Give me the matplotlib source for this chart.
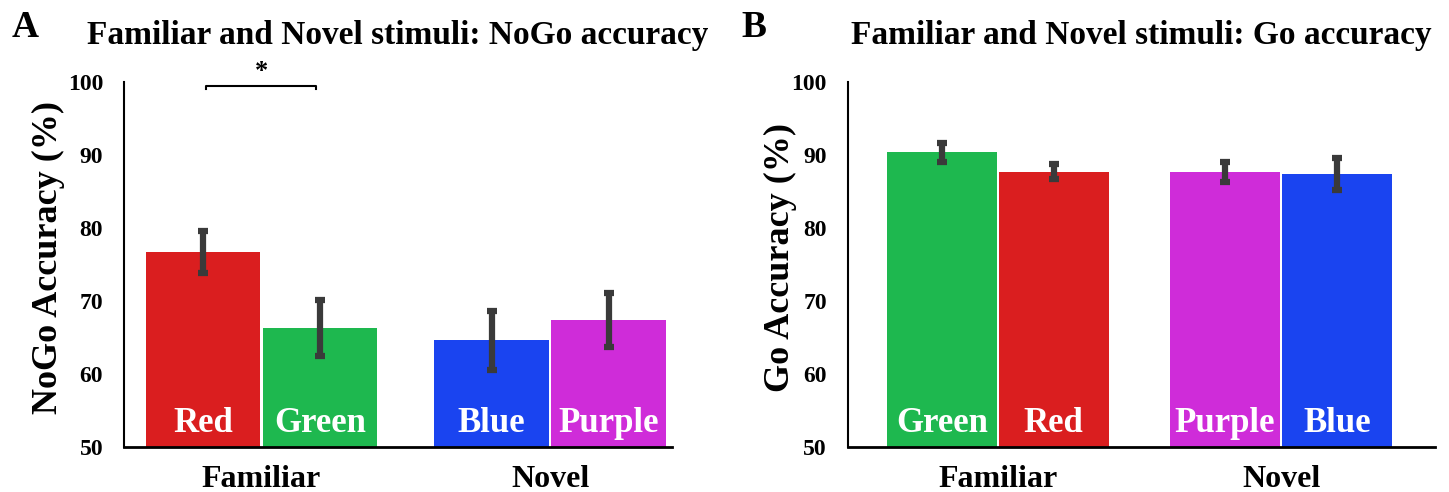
import matplotlib.pyplot as plt
import numpy as np

plt.rcParams['font.family'] = ['Liberation Serif', 'DejaVu Serif']
plt.rcParams['font.weight'] = 'bold'

groups = ["Familiar", "Novel"]

# NoGo panel
nogo_labels = ["Red", "Green", "Blue", "Purple"]
nogo_means = [76.7, 66.3, 64.6, 67.4]
nogo_err = [2.9, 3.8, 4.0, 3.7]
nogo_colors = ["#da1e1f", "#1eb84f", "#1a44f0", "#cf2cd9"]

# Go panel
go_labels = ["Green", "Red", "Purple", "Blue"]
go_means = [90.4, 87.7, 87.7, 87.4]
go_err = [1.3, 1.0, 1.4, 2.2]
go_colors = ["#1eb84f", "#da1e1f", "#cf2cd9", "#1a44f0"]

yticks = [50, 60, 70, 80, 90, 100]

fig = plt.figure(figsize=(14.49, 4.92), dpi=100)
ax1 = fig.add_axes([0.0856, 0.0915, 0.378, 0.742])
ax2 = fig.add_axes([0.585, 0.0915, 0.405, 0.742])


def draw(ax, labels, means, err, colors, gap, title, ylabel, xlim, ylab_x):
    x = np.array([0, 1, 1 + gap, 2 + gap])
    ax.bar(x, np.array(means) - 50, bottom=50, width=0.98, color=colors)
    ax.errorbar(x, means, yerr=err, fmt="none", ecolor="#3a3a3a",
                elinewidth=4.5, capsize=3.5, capthick=4.5)
    for xi, lab in zip(x, labels):
        ax.text(xi, 50.9, lab, color="white", ha="center", va="bottom",
                fontsize=25, fontweight="bold")
    ax.set_ylim(50, 100)
    ax.set_xlim(*xlim)
    ax.set_yticks(yticks)
    ax.set_yticklabels([str(t) for t in yticks], fontsize=17, fontweight="bold")
    ax.set_xticks([0.5, 1.5 + gap])
    ax.set_xticklabels(groups, fontsize=23, fontweight="bold")
    ax.tick_params(length=0, pad=15, axis="y")
    ax.tick_params(length=0, pad=13, axis="x")
    ax.spines["top"].set_visible(False)
    ax.spines["right"].set_visible(False)
    ax.spines["left"].set_linewidth(1.5)
    ax.spines["bottom"].set_linewidth(2)
    ax.set_ylabel(ylabel, fontsize=26, fontweight="bold")
    ax.yaxis.set_label_coords(ylab_x, 0.52)
    ax.set_title(title, fontsize=24, fontweight="bold", pad=27)
    return x


x1 = draw(ax1, nogo_labels, nogo_means, nogo_err, nogo_colors, 1.47,
          "Familiar and Novel stimuli: NoGo accuracy", "NoGo Accuracy (%)",
          (-0.675, 4.01), -0.108)
x2 = draw(ax2, go_labels, go_means, go_err, go_colors, 1.53,
          "Familiar and Novel stimuli: Go accuracy", "Go Accuracy (%)",
          (-0.84, 4.4), -0.086)

# significance bracket
ax1.plot([x1[0] + 0.03, x1[0] + 0.03, x1[1] - 0.03, x1[1] - 0.03],
         [99.0, 99.4, 99.4, 99.0], color="black", lw=1.5, clip_on=False)
ax1.text((x1[0] + x1[1]) / 2, 99.9, "*", ha="center", va="bottom",
         fontsize=19, fontweight="bold")

fig.text(0.008, 0.925, "A", fontsize=27, fontweight="bold")
fig.text(0.512, 0.925, "B", fontsize=27, fontweight="bold")

fig.savefig("out.png", dpi=100)
